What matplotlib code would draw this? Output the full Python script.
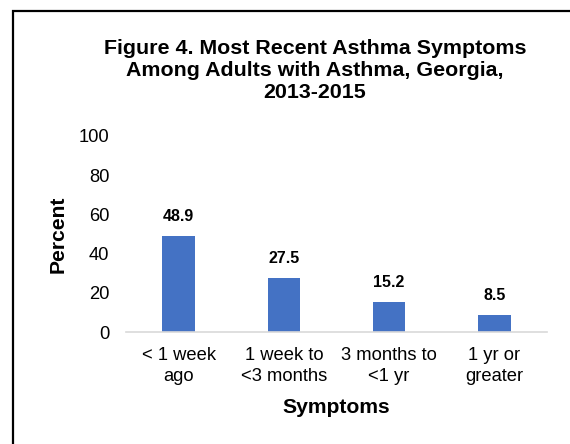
import matplotlib.pyplot as plt
from matplotlib.patches import Rectangle

plt.rcParams['font.family'] = ['Liberation Sans', 'DejaVu Sans']

categories = ['< 1 week\nago', '1 week to\n<3 months', '3 months to\n<1 yr', '1 yr or\ngreater']
percent = [48.9, 27.5, 15.2, 8.5]

fig = plt.figure(figsize=(5.7, 4.44), dpi=100)
ax = fig.add_axes([126 / 570, 1 - 332 / 444, 421 / 570, 196 / 444])

x = range(len(categories))
bars = ax.bar(x, percent, width=0.31, color='#4472C4', zorder=2)
for b, v in zip(bars, percent):
    ax.text(b.get_x() + b.get_width() / 2, v + 10, f'{v:.1f}', ha='center', va='center',
            fontsize=11.5, fontweight='bold')

ax.set_xlim(-0.5, len(categories) - 0.5)
ax.set_ylim(0, 100)
ax.set_yticks(range(0, 101, 20))
ax.set_xticks(list(x))
ax.set_xticklabels(categories, fontsize=13.2, linespacing=1.3)
ax.tick_params(axis='y', labelsize=13.2, length=0, pad=12)
ax.tick_params(axis='x', length=0, pad=11)

for s in ['top', 'right', 'left']:
    ax.spines[s].set_visible(False)
ax.spines['bottom'].set_color('#d9d9d9')
ax.spines['bottom'].set_linewidth(1.2)

ax.set_ylabel('Percent', fontsize=15.2, fontweight='bold', labelpad=8)
ax.set_xlabel('Symptoms', fontsize=15.2, fontweight='bold', labelpad=9)

fig.text(315 / 570, 1 - 70 / 444,
         'Figure 4. Most Recent Asthma Symptoms\nAmong Adults with Asthma, Georgia,\n2013-2015',
         ha='center', va='center', fontsize=15.4, fontweight='bold', linespacing=1.2)

# frame around the chart area
fig.patches.append(Rectangle((12.5 / 570, -0.1), 1.2, 1.1 - 11.5 / 444, transform=fig.transFigure,
                             fill=False, edgecolor='black', linewidth=1.6))

fig.savefig('out.png', dpi=100)
